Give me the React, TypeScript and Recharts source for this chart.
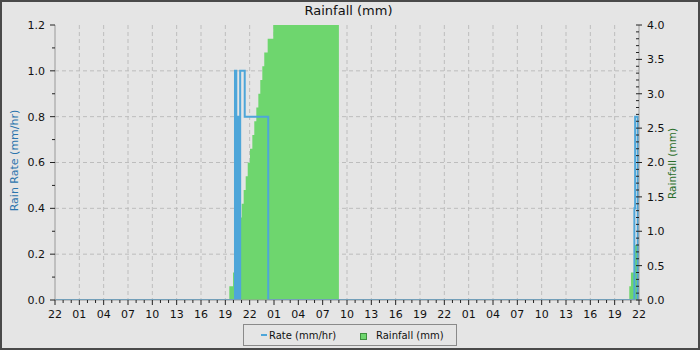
import React from 'react';
import { ComposedChart, Area, Line, XAxis, YAxis, CartesianGrid } from 'recharts';

const FONT = '"DejaVu Sans", sans-serif';
const START_HOUR = 22;

// tick values
const hourTicks = Array.from({ length: 73 }, (_, i) => i);
const rateTicks = Array.from({ length: 13 }, (_, i) => i / 10);
const rainTicks = Array.from({ length: 41 }, (_, i) => i / 10);
const gridRateValues = [0.2, 0.4, 0.6, 0.8, 1.0];
const gridHourValues = [3, 6, 9, 12, 15, 18, 21, 24, 27, 30, 33, 36, 39, 42, 45, 48, 51, 54, 57, 60, 63, 66, 69];

// rainfall (mm), cumulative, hours since 22:00 of day 1
const rainHours = [0, 21.49, 21.95, 22.25, 22.5, 22.72, 22.89, 23.02, 23.26, 23.51, 23.76, 24.04, 24.33, 24.57, 24.82, 25.07, 25.31, 25.56, 25.8, 26.22, 26.91, 35.0, 70.8, 71.01, 71.38, 71.48, 72];
const rainValues = [0, 0.2, 0.4, 0.6, 0.8, 1.0, 1.2, 1.4, 1.6, 1.8, 2.0, 2.2, 2.4, 2.6, 2.8, 3.0, 3.2, 3.4, 3.6, 3.8, 4.0, 0, 0.2, 0.4, 0.6, 0.8, 0.8];

// rain rate (mm/hr)
const rateHours = [0, 22.19, 22.35, 22.42, 22.51, 22.59, 22.67, 22.74, 22.78, 22.83, 23.39, 26.29, 71.43, 71.52, 71.85, 72];
const rateValues = [0, 1.0, 0, 0.8, 0, 0.8, 0, 0.8, 0, 1.0, 0.8, 0, 0.4, 0.8, 0, 0];

const rainfallData = rainHours.map((h, i) => ({ h, rain: rainValues[i] }));
const rateData = rateHours.map((h, i) => ({ h, rate: rateValues[i] }));

const BLUE = '#4ea6d9';
const GREEN = '#6ed66e';
const TICK_COLOR = '#222';
const TEXT_COLOR = '#111';

const XTick = (props: any) => {
  const { x, y, payload } = props;
  const h = Math.round(payload.value);
  const major = h % 3 === 0;
  const label = String((START_HOUR + h) % 24).padStart(2, '0');
  return (
    <g>
      <line x1={x} x2={x} y1={y} y2={y + (major ? 5 : 3)} stroke={TICK_COLOR} />
      {major && (
        <text x={x} y={y + 18} textAnchor="middle" fontSize={11} fontFamily={FONT} fill={TEXT_COLOR}>
          {label}
        </text>
      )}
    </g>
  );
};

const LeftTick = (props: any) => {
  const { x, y, payload } = props;
  const v = payload.value;
  const major = Math.round(v * 10) % 2 === 0;
  return (
    <g>
      <line x1={x} x2={x - (major ? 5 : 3)} y1={y} y2={y} stroke={TICK_COLOR} />
      {major && (
        <text x={x - 10} y={y} dy="0.36em" textAnchor="end" fontSize={11} fontFamily={FONT} fill={TEXT_COLOR}>
          {v.toFixed(1)}
        </text>
      )}
    </g>
  );
};

const RightTick = (props: any) => {
  const { x, y, payload } = props;
  const v = payload.value;
  const major = Math.round(v * 10) % 5 === 0;
  return (
    <g>
      <line x1={x - 3} x2={x + (major ? 3 : 0)} y1={y} y2={y} stroke={TICK_COLOR} />
      {major && (
        <text x={x + 8} y={y} dy="0.36em" textAnchor="start" fontSize={11} fontFamily={FONT} fill={TEXT_COLOR}>
          {v.toFixed(1)}
        </text>
      )}
    </g>
  );
};

const LeftLabel = (props: any) => {
  const vb = props.viewBox || { x: 0, y: 25, width: 55, height: 275 };
  const cx = vb.x + 14;
  const cy = vb.y + vb.height / 2 - 2;
  return (
    <text
      x={cx}
      y={cy}
      transform={`rotate(-90, ${cx}, ${cy})`}
      textAnchor="middle"
      dominantBaseline="central"
      fontSize={11}
      fontFamily={FONT}
      fill="#2b74ad"
    >
      Rain Rate (mm/hr)
    </text>
  );
};

const RightLabel = (props: any) => {
  const vb = props.viewBox || { x: 639, y: 25, width: 61, height: 275 };
  const cx = vb.x + 33;
  const cy = vb.y + vb.height / 2 + 1;
  return (
    <text
      x={cx}
      y={cy}
      transform={`rotate(-90, ${cx}, ${cy})`}
      textAnchor="middle"
      dominantBaseline="central"
      fontSize={10.5}
      fontFamily={FONT}
      fill="#2a6e2a"
    >
      Rainfall (mm)
    </text>
  );
};

export default function App() {
  return (
    <div
      style={{
        position: 'absolute',
        left: 0,
        top: 0,
        width: 700,
        height: 350,
        background: '#e5e5e5',
        boxShadow: 'inset 0 0 0 2px #4a4a4a',
        fontFamily: FONT,
      }}
    >
      <div
        style={{
          position: 'absolute',
          left: 0,
          top: 3,
          width: 697,
          textAlign: 'center',
          fontSize: 13,
          color: TEXT_COLOR,
          lineHeight: '16px',
          zIndex: 2,
        }}
      >
        Rainfall (mm)
      </div>
      <ComposedChart width={700} height={350} margin={{ top: 25, right: 0, bottom: 0, left: 0 }}>
        <CartesianGrid
          xAxisId="x"
          yAxisId="rate"
          horizontalValues={gridRateValues}
          verticalValues={gridHourValues}
          stroke="#bdbdbd"
          strokeDasharray="4 3"
        />
        <XAxis
          xAxisId="x"
          type="number"
          dataKey="h"
          domain={[0, 72]}
          ticks={hourTicks}
          interval={0}
          allowDataOverflow
          height={50}
          tickSize={0}
          tickMargin={0}
          tickLine={false}
          axisLine={{ stroke: '#999' }}
          tick={<XTick />}
        />
        <XAxis
          xAxisId="top"
          orientation="top"
          type="number"
          domain={[0, 72]}
          height={0}
          tick={false}
          tickLine={false}
          axisLine={{ stroke: '#999' }}
        />
        <YAxis
          yAxisId="rate"
          orientation="left"
          type="number"
          domain={[0, 1.2]}
          ticks={rateTicks}
          interval={0}
          allowDataOverflow
          width={55}
          tickSize={0}
          tickMargin={0}
          tickLine={false}
          axisLine={{ stroke: '#999' }}
          tick={<LeftTick />}
          label={{ content: <LeftLabel /> }}
        />
        <YAxis
          yAxisId="rain"
          orientation="right"
          type="number"
          domain={[0, 4]}
          ticks={rainTicks}
          interval={0}
          allowDataOverflow
          width={61}
          tickSize={0}
          tickMargin={0}
          tickLine={false}
          axisLine={{ stroke: '#999' }}
          tick={<RightTick />}
          label={{ content: <RightLabel /> }}
        />
        <Area
          xAxisId="x"
          yAxisId="rain"
          data={rainfallData}
          dataKey="rain"
          name="Rainfall (mm)"
          type="stepAfter"
          fill={GREEN}
          fillOpacity={1}
          stroke="none"
          isAnimationActive={false}
        />
        <Line
          xAxisId="x"
          yAxisId="rate"
          data={rateData}
          dataKey="rate"
          name="Rate (mm/hr)"
          type="stepAfter"
          stroke={BLUE}
          strokeWidth={2}
          dot={false}
          activeDot={false}
          isAnimationActive={false}
        />
      </ComposedChart>
      <div
        style={{
          position: 'absolute',
          left: 243,
          top: 324,
          width: 214,
          height: 22,
          boxSizing: 'border-box',
          border: '1px solid #8a8a8a',
          fontSize: 10,
          color: TEXT_COLOR,
          zIndex: 2,
        }}
      >
        <div style={{ position: 'absolute', left: 17, top: 9, width: 6, height: 2, background: BLUE }} />
        <div style={{ position: 'absolute', left: 25, top: 4, lineHeight: '13px', whiteSpace: 'nowrap' }}>Rate (mm/hr)</div>
        <div
          style={{
            position: 'absolute',
            left: 116,
            top: 8,
            width: 7,
            height: 7,
            boxSizing: 'border-box',
            background: GREEN,
            border: '1px solid #3f8f3f',
          }}
        />
        <div style={{ position: 'absolute', left: 132, top: 4, lineHeight: '13px', whiteSpace: 'nowrap' }}>Rainfall (mm)</div>
      </div>
    </div>
  );
}
